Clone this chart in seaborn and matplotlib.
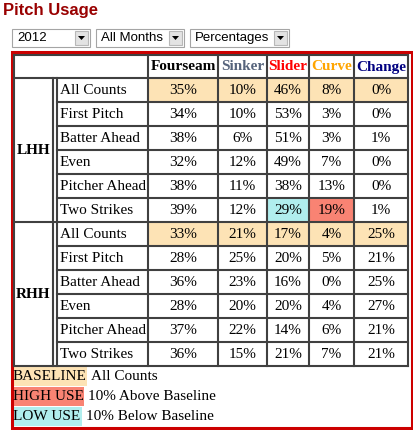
import numpy as np
import pandas as pd
import matplotlib
matplotlib.use("Agg")
import matplotlib.pyplot as plt
from matplotlib.colors import ListedColormap
from matplotlib.patches import Rectangle, Polygon
import seaborn as sns

pitches = ['Fourseam', 'Sinker', 'Slider', 'Curve', 'Change']
pitch_colors = ['#000000', '#56647c', '#ff0000', '#ffa500', '#000080']
counts = ['All Counts', 'First Pitch', 'Batter Ahead', 'Even', 'Pitcher Ahead', 'Two Strikes']
hands = ['LHH', 'RHH']
lhh = [[35, 10, 46, 8, 0],
       [34, 10, 53, 3, 0],
       [38, 6, 51, 3, 1],
       [32, 12, 49, 7, 0],
       [38, 11, 38, 13, 0],
       [39, 12, 29, 19, 1]]
rhh = [[33, 21, 17, 4, 25],
       [28, 25, 20, 5, 21],
       [36, 23, 16, 0, 25],
       [28, 20, 20, 4, 27],
       [37, 22, 14, 6, 21],
       [36, 15, 21, 7, 21]]
menus = ['2012', 'All Months', 'Percentages']

BASE = '#fde3b5'
HIGH = '#f98373'
LOW = '#b0eeee'
GRID = '#404040'
SERIF = 'Liberation Serif'
FS = 11

values = np.array(lhh + rhh)
# 0 plain, 1 baseline, 2 high use, 3 low use
cat = np.zeros_like(values)
for g in range(2):
    base = values[g * 6]
    cat[g * 6] = 1
    for r in range(1, 6):
        row = values[g * 6 + r]
        cat[g * 6 + r][row > base + 10] = 2
        cat[g * 6 + r][row < base - 10] = 3

W, H = 413, 430
fig = plt.figure(figsize=(W / 100, H / 100), dpi=100)

col_x = [148, 218, 267, 309, 354, 408]
y_top, y_head, y_bot = 55, 78, 366
row_h = (y_bot - y_head) / 12

# one heatmap per column, as the column widths differ
cmap = ListedColormap(['white', BASE, HIGH, LOW])
for j, p in enumerate(pitches):
    x0, x1 = col_x[j], col_x[j + 1]
    cax = fig.add_axes([x0 / W, 1 - y_bot / H, (x1 - x0) / W, (y_bot - y_head) / H])
    df = pd.DataFrame({p: cat[:, j]})
    labels = np.array([[f'{v}%'] for v in values[:, j]])
    sns.heatmap(df, ax=cax, cmap=cmap, vmin=-0.5, vmax=3.5, cbar=False,
                annot=labels, fmt='', xticklabels=False, yticklabels=False,
                annot_kws=dict(fontfamily=SERIF, fontsize=FS, color='black'))
    cax.set_xlabel('')
    cax.set_ylabel('')

# overlay axes in pixel units for the frame, headers and legend
ax = fig.add_axes([0, 0, 1, 1])
ax.set_zorder(10)
ax.patch.set_visible(False)
ax.set_xlim(0, W)
ax.set_ylim(H, 0)
ax.axis('off')

ax.text(3, 11, 'Pitch Usage', fontfamily='Liberation Sans', fontweight='bold',
        fontsize=12, color='#990000', va='center', ha='left')

# drop-down menus
boxes = [(12, 90), (96, 184), (190, 289)]
for (a, b), m in zip(boxes, menus):
    ax.add_patch(Rectangle((a, 28.5), b - a, 18, fc='white', ec='#a5a5a5', lw=0.8))
    ax.add_patch(Rectangle((b - 15, 30.5), 13, 14, fc='#e3e3e3', ec='#b8b8b8', lw=0.8))
    cx = b - 8.5
    ax.add_patch(Polygon([(cx - 3.5, 36), (cx + 3.5, 36), (cx, 40)], fc='black', ec='none'))
    ax.text(a + 5, 38, m, fontfamily='Liberation Sans', fontsize=9.5, va='center', ha='left')

# header labels
for j, p in enumerate(pitches):
    ax.text((col_x[j] + col_x[j + 1]) / 2, 67, p, fontfamily=SERIF, fontweight='bold',
            fontsize=FS, color=pitch_colors[j], ha='center', va='center')

# row labels and groups
for g, hand in enumerate(hands):
    gy0 = y_head + g * 6 * row_h
    ax.text(33.5, gy0 + 3 * row_h, hand, fontfamily=SERIF, fontweight='bold',
            fontsize=FS, ha='center', va='center')
    for r, c in enumerate(counts):
        ax.text(60, gy0 + (r + 0.5) * row_h, c, fontfamily=SERIF, fontsize=FS,
                ha='left', va='center')

# grid lines
lw = 1.5
ax.plot([14, 408], [y_top, y_top], color=GRID, lw=lw)
for x in col_x:
    ax.plot([x, x], [y_top, y_bot], color=GRID, lw=lw)
ax.plot([14, 14], [y_top, y_bot], color=GRID, lw=lw)
for x in (53, 57):
    ax.plot([x, x], [y_head, y_bot], color=GRID, lw=lw)
for i in range(13):
    y = y_head + i * row_h
    x_start = 14 if i % 6 == 0 else 57
    ax.plot([x_start, 408], [y, y], color=GRID, lw=lw)

# legend
legend = [('BASELINE', BASE, 74, 'All Counts', 367),
          ('HIGH USE', HIGH, 71, '10% Above Baseline', 387),
          ('LOW USE', LOW, 69, '10% Below Baseline', 407)]
for name, col, w, desc, y in legend:
    ax.add_patch(Rectangle((13, y), w, 19, fc=col, ec='none'))
    ax.text(13, y + 9.5, name, fontfamily=SERIF, fontsize=FS, va='center', ha='left')
    ax.text(13 + w + 4, y + 9.5, desc, fontfamily=SERIF, fontsize=FS, va='center', ha='left')

# red frame
ax.add_patch(Rectangle((11.5, 51.5), 400, 376, fc='none', ec='#cc0000', lw=2.2))

fig.savefig('out.png', dpi=100)
